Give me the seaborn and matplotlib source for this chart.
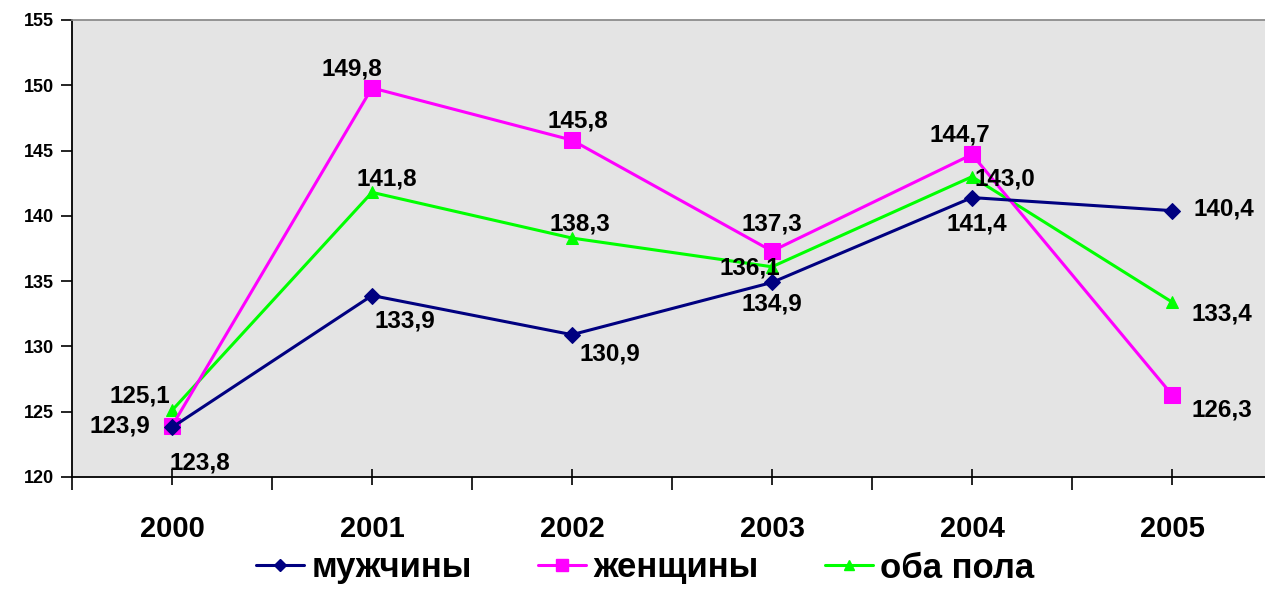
import pandas as pd
import matplotlib.pyplot as plt
import seaborn as sns
from matplotlib.ticker import MultipleLocator, FixedLocator

# Data
years = [2000, 2001, 2002, 2003, 2004, 2005]
men = [123.8, 133.9, 130.9, 134.9, 141.4, 140.4]
women = [123.9, 149.8, 145.8, 137.3, 144.7, 126.3]
both = [125.1, 141.8, 138.3, 136.1, 143.0, 133.4]
series_names = ['мужчины', 'женщины', 'оба пола']

# label offsets in pixels (dx, dy) for each point
men_off = [(28, -36), (33, -25), (38, -19), (0, -22), (5, -26), (52, 2)]
women_off = [(-52, 0), (-20, 19), (6, 19), (0, 27), (-12, 19), (50, -15)]
both_off = [(-32, 14), (15, 13), (8, 14), (-22, -1), (33, -2), (50, -12)]

sns.set_theme(style='white')
plt.rcParams['font.family'] = ['Liberation Sans', 'DejaVu Sans']
plt.rcParams['font.weight'] = 'bold'
plt.rcParams['text.color'] = 'black'
plt.rcParams['xtick.color'] = 'black'
plt.rcParams['ytick.color'] = 'black'

df = pd.DataFrame({
    'year': years * 3,
    'value': men + women + both,
    'group': [series_names[0]] * 6 + [series_names[1]] * 6 + [series_names[2]] * 6,
})

colors = {'мужчины': '#000080', 'женщины': '#ff00ff', 'оба пола': '#00ff00'}
markers = {'мужчины': 'D', 'женщины': 's', 'оба пола': '^'}
msize = {'мужчины': 8, 'женщины': 12, 'оба пола': 9}

fig = plt.figure(figsize=(12.65, 5.89), dpi=100)
ax = fig.add_axes([72 / 1265, 1 - 477 / 589, 1 - 72 / 1265, 457 / 589])
ax.set_facecolor('#e4e4e4')

# green first, then magenta, navy on top
for name in ['оба пола', 'женщины', 'мужчины']:
    sub = df[df['group'] == name]
    sns.lineplot(data=sub, x='year', y='value', ax=ax, color=colors[name],
                 marker=markers[name], markersize=msize[name],
                 markeredgecolor=colors[name], linewidth=2.2, label=name,
                 legend=False)

for vals, offs in [(men, men_off), (women, women_off), (both, both_off)]:
    for x, v, (dx, dy) in zip(years, vals, offs):
        ax.annotate(f'{v:.1f}'.replace('.', ','), (x, v), xytext=(dx, dy),
                    textcoords='offset pixels', ha='center', va='center',
                    fontsize=17.5, fontweight='bold', color='black')

ax.set_xlim(1999.5, 2005.465)
ax.set_ylim(120, 155)
ax.yaxis.set_major_locator(MultipleLocator(5))
ax.xaxis.set_major_locator(FixedLocator(years))
ax.xaxis.set_minor_locator(FixedLocator([y + 0.5 for y in [1999] + years]))
ax.set_xticklabels([str(y) for y in years], fontsize=21, fontweight='bold')
ax.tick_params(axis='x', which='major', direction='inout', length=11, width=1.2,
               pad=22, bottom=True)
ax.tick_params(axis='x', which='minor', direction='out', length=9, width=1.2,
               bottom=True)
ax.tick_params(axis='y', direction='out', length=8, width=1.2,
               labelsize=13, pad=5, left=True)
for lab in ax.get_yticklabels():
    lab.set_fontweight('bold')
ax.set_xlabel('')
ax.set_ylabel('')

for s in ['left', 'bottom']:
    ax.spines[s].set_color('black')
    ax.spines[s].set_linewidth(1.3)
ax.spines['top'].set_color('#888888')
ax.spines['right'].set_visible(False)

handles = []
for name in series_names:
    h, = ax.plot([], [], color=colors[name], marker=markers[name],
                 markersize=msize[name] * 0.75, linewidth=2.2, label=name)
    handles.append(h)
fig.legend(handles=handles, loc='center', bbox_to_anchor=(645 / 1265, 1 - 568 / 589),
           ncol=3, frameon=False, handlelength=1.4, borderpad=0.1,
           handletextpad=0.2, columnspacing=1.9, prop={'weight': 'bold', 'size': 25})

fig.savefig('out.png', dpi=100)
